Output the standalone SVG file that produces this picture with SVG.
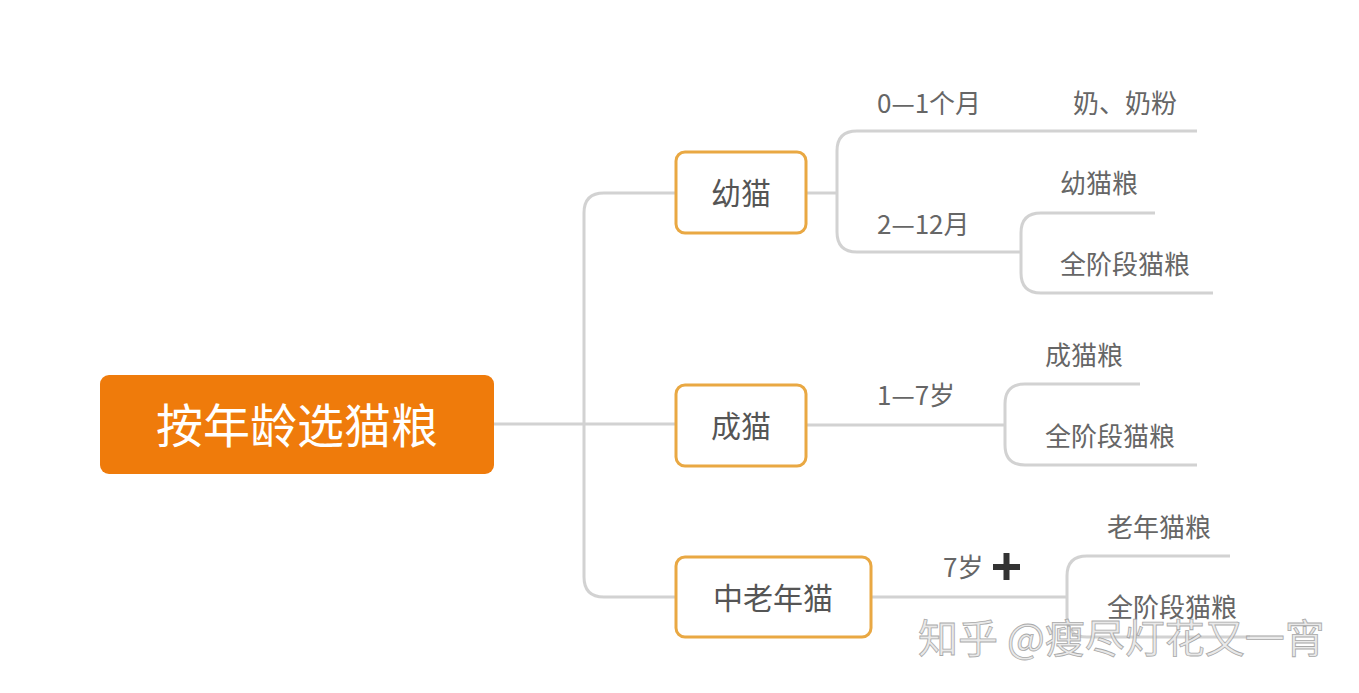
<svg xmlns="http://www.w3.org/2000/svg" width="1359" height="693" viewBox="0 0 1359 693">
<style>
.ln{fill:none;stroke:#d2d2d2;stroke-width:3}
.nd{fill:#fff;stroke:#E9A843;stroke-width:3}
.nt{font-family:"Noto Sans CJK SC","Liberation Sans",sans-serif;font-size:30px;fill:#555;text-anchor:middle}
.lb{font-family:"Noto Sans CJK SC","Liberation Sans",sans-serif;font-size:26px;fill:#666}
.wm{font-family:"Noto Sans CJK SC",sans-serif;font-size:40px;fill:#e6e6e6;stroke:#9a9a9a;stroke-width:0.8;opacity:0.85}
</style>
<rect width="1359" height="693" fill="#fff"/>
<g id="connectors">
<path class="ln" d="M494 424H675"/>
<path class="ln" d="M675 193H604Q584 193 584 213V577Q584 597 604 597H675"/>
<path class="ln" d="M806 193H837"/>
<path class="ln" d="M1197 131H857Q837 131 837 151V232Q837 252 857 252H1021"/>
<path class="ln" d="M1155 213H1041Q1021 213 1021 233V273Q1021 293 1041 293H1213"/>
<path class="ln" d="M806 425H1005"/>
<path class="ln" d="M1140 384H1025Q1005 384 1005 404V445Q1005 465 1025 465H1197"/>
<path class="ln" d="M871 597H1067"/>
<path class="ln" d="M1230 556H1087Q1067 556 1067 576V617Q1067 637 1087 637H1250"/>
</g>
<g id="root"><rect x="100" y="375" width="394" height="99" rx="9" fill="#EF7B0B"/>
<text x="297" y="443" font-family="Noto Sans CJK SC,sans-serif" font-size="47" fill="#fff" text-anchor="middle">按年龄选猫粮</text></g>
<g id="n1"><rect class="nd" x="676" y="152" width="130" height="81" rx="9"/><text class="nt" x="741" y="204">幼猫</text></g>
<g id="n2"><rect class="nd" x="676" y="385" width="130" height="81" rx="9"/><text class="nt" x="741" y="437">成猫</text></g>
<g id="n3"><rect class="nd" x="676" y="557" width="195" height="80" rx="9"/><text class="nt" x="773" y="609">中老年猫</text></g>
<g id="labels">
<text class="lb" x="877" y="113">0—1个月</text>
<text class="lb" x="1073" y="113">奶、奶粉</text>
<text class="lb" x="877" y="234">2—12月</text>
<text class="lb" x="1060" y="193">幼猫粮</text>
<text class="lb" x="1060" y="274">全阶段猫粮</text>
<text class="lb" x="877" y="405">1—7岁</text>
<text class="lb" x="1045" y="365">成猫粮</text>
<text class="lb" x="1045" y="446">全阶段猫粮</text>
<text class="lb" x="943" y="577">7岁</text>
<rect x="993" y="564" width="27" height="6" fill="#333"/><rect x="1003.5" y="553" width="6" height="27" fill="#333"/>
<text class="lb" x="1107" y="537">老年猫粮</text>
<text class="lb" x="1107" y="617">全阶段猫粮</text>
</g>
<text class="wm" x="918" y="653">知乎 @瘦尽灯花又一宵</text>
</svg>
